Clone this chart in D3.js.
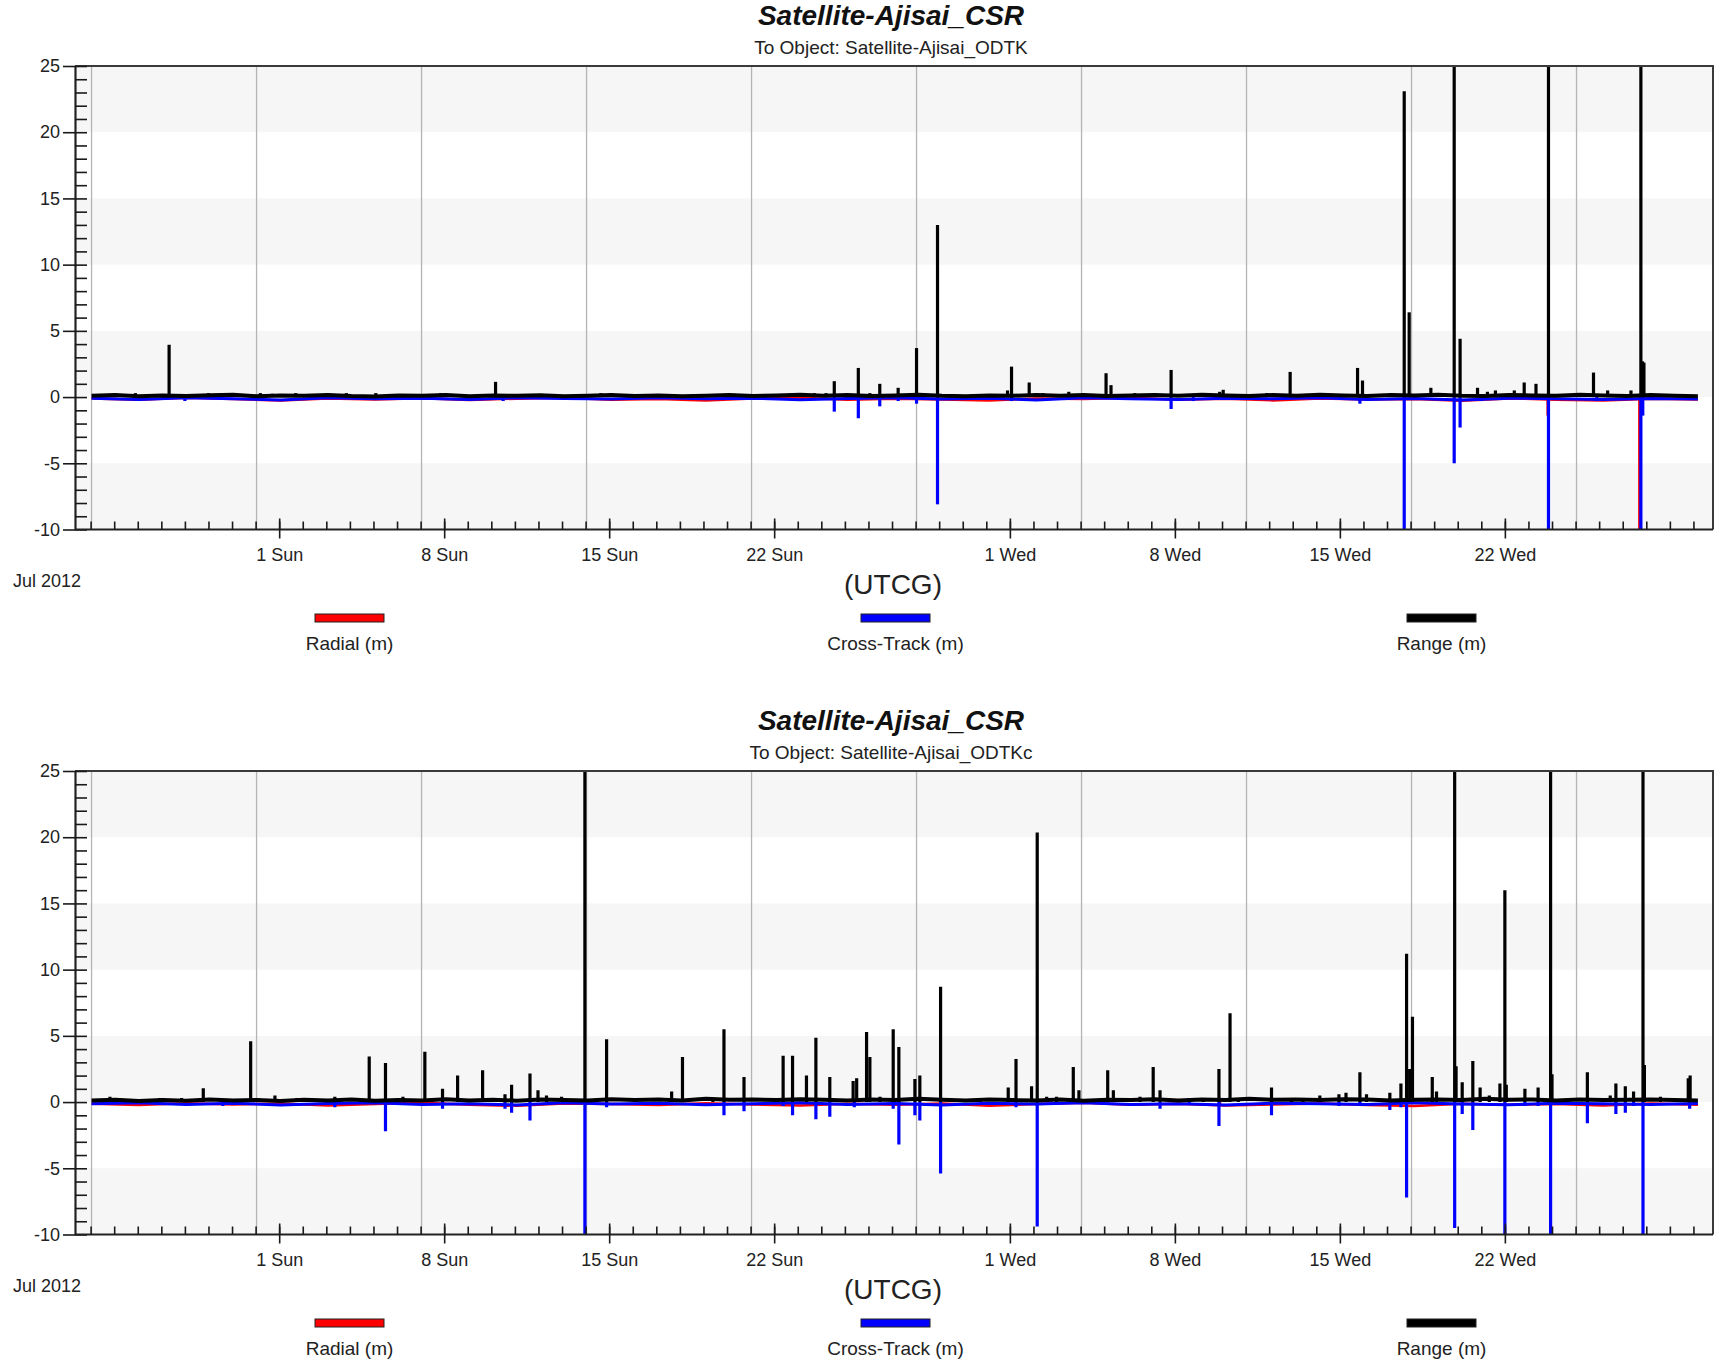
<!DOCTYPE html>
<html>
<head>
<meta charset="utf-8">
<script src="https://cdn.jsdelivr.net/npm/d3@7"></script>
<style>
  body { margin: 0; background: #fff; }
  svg { display: block; font-family: "Liberation Sans", Arial, sans-serif; }
</style>
</head>
<body>
<svg id="chart" width="1719" height="1369"></svg>
<script>
// time in days from 1 Jul 2012 00:00 UTCG
const dataStart = -7.96, dataEnd = 60.19;
const tickDays = [0, 7, 14, 21, 31, 38, 45, 52];
const tickLabels = ["1 Sun", "8 Sun", "15 Sun", "22 Sun", "1 Wed", "8 Wed", "15 Wed", "22 Wed"];
const gridDays = [-7.96, -0.96, 6.04, 13.04, 20.04, 27.04, 34.04, 41.04, 48.04, 55.04];
const yTicks = [-10, -5, 0, 5, 10, 15, 20, 25];
const seriesNames = ["Radial (m)", "Cross-Track (m)", "Range (m)"];
const seriesColors = ["#ff0000", "#0000ff", "#000000"];
const titles = ["Satellite-Ajisai_CSR", "Satellite-Ajisai_CSR"];
const subtitles = ["To Object: Satellite-Ajisai_ODTK", "To Object: Satellite-Ajisai_ODTKc"];

// ---- panel 1 (ODTK) ----
const rangeBase1 = [0.1,0.15,0.06,0.12,0.08,0.14,0.18,0.06,0.12,0.1,0.15,0.08,0.05,0.12,0.1,0.16,0.06,0.12,0.1,0.14,0.06,0.1,0.15,0.08,0.12,0.06,0.1,0.15,0.08,0.12,0.18,0.1,0.15,0.08,0.12,0.18,0.1,0.06,0.12,0.1,0.15,0.1,0.16,0.08,0.12,0.15,0.1,0.18,0.12,0.08,0.15,0.1,0.18,0.12,0.08,0.15,0.12,0.18,0.1,0.08,0.15,0.12,0.1,0.18,0.12,0.08,0.15,0.1,0.06];
const crossBase1 = [-0.08,-0.18,-0.05,-0.12,-0.22,-0.06,-0.12,-0.08,-0.18,-0.05,-0.1,-0.15,-0.06,-0.12,-0.08,-0.2,-0.1,-0.05,-0.15,-0.08,-0.22,-0.06,-0.12,-0.18,-0.08,-0.12,-0.05,-0.18,-0.1,-0.22,-0.08,-0.12,-0.18,-0.1,-0.15];
const radialBase1 = [-0.1,-0.2,-0.05,-0.15,-0.25,-0.1,-0.18,-0.08,-0.22,-0.12,-0.05,-0.2,-0.15,-0.25,-0.1,-0.05,-0.2,-0.12,-0.18,-0.25,-0.1,-0.15,-0.05,-0.2,-0.12,-0.25,-0.1,-0.18,-0.15,-0.28,-0.1,-0.2,-0.25,-0.12,-0.18];
const rangeSpikes1 = [[-6.1,0.3],[-4.67,3.95],[-3.0,0.3],[-0.8,0.3],[-0.3,0.25],[0.7,0.3],[2.85,0.3],[4.1,0.3],[6.85,0.3],[9.18,1.15],[13.65,0.3],
  [22.7,0.3],[23.2,0.3],[23.55,1.2],[24.57,2.2],[25.06,0.3],[25.48,1.0],[26.26,0.7],[27.04,3.7],[27.93,13.0],[28.5,0.2],[29.4,0.2],[30.9,0.5],[31.07,2.3],[31.82,1.1],[32.4,0.3],[33.5,0.4],[35.08,1.8],[35.29,0.9],[36.3,0.3],[37.84,2.05],[39.9,0.4],[40.05,0.55],[41.9,0.3],[42.89,1.9],
  [45.75,2.2],[45.96,1.25],[47.73,23.1],[47.94,6.4],[48.86,0.7],[49.85,30],[50.1,4.4],[50.84,0.7],[51.26,0.4],[51.6,0.5],[52.4,0.5],[52.82,1.1],[53.32,1.0],[53.85,30],[55.76,1.85],[56.36,0.5],[57.35,0.5],[57.77,30],[57.84,2.7],[57.9,2.6]];
const crossSpikes1 = [[-4.0,-0.3],[9.5,-0.3],[23.55,-1.1],[24.57,-1.6],[25.48,-0.7],[26.26,-0.3],[27.04,-0.5],[27.93,-8.1],[31.07,-0.3],[37.84,-0.9],[38.78,-0.3],[45.85,-0.5],[47.73,-12],[49.85,-5.0],[50.1,-2.3],[51.0,-0.3],[53.85,-12],[55.9,-0.3],[57.77,-12],[57.85,-1.4]];
const radialSpikes1 = [[53.83,-1.4],[57.72,-12]];

// ---- panel 2 (ODTKc) ----
const rangeBase2 = [0.12,0.18,0.08,0.15,0.1,0.2,0.12,0.16,0.08,0.18,0.12,0.2,0.1,0.15,0.12,0.22,0.12,0.18,0.1,0.2,0.15,0.12,0.22,0.15,0.2,0.12,0.25,0.18,0.2,0.15,0.22,0.18,0.12,0.2,0.15,0.25,0.18,0.12,0.2,0.15,0.12,0.2,0.1,0.18,0.15,0.22,0.12,0.2,0.15,0.25,0.18,0.2,0.15,0.22,0.2,0.12,0.18,0.2,0.15,0.25,0.18,0.2,0.12,0.2,0.15,0.18,0.2,0.15,0.12];
const crossBase2 = [-0.12,-0.05,-0.18,-0.08,-0.22,-0.1,-0.05,-0.18,-0.12,-0.22,-0.06,-0.15,-0.08,-0.2,-0.12,-0.05,-0.18,-0.1,-0.22,-0.08,-0.15,-0.06,-0.18,-0.12,-0.22,-0.08,-0.12,-0.18,-0.05,-0.15,-0.2,-0.08,-0.12,-0.18,-0.1];
const radialBase2 = [-0.12,-0.22,-0.08,-0.18,-0.1,-0.25,-0.15,-0.05,-0.2,-0.28,-0.1,-0.15,-0.22,-0.08,-0.18,-0.25,-0.12,-0.2,-0.1,-0.28,-0.15,-0.05,-0.2,-0.12,-0.25,-0.18,-0.1,-0.22,-0.3,-0.12,-0.2,-0.15,-0.25,-0.1,-0.2];
const rangeSpikes2 = [[-7.18,0.4],[-6.12,0.2],[-5.06,0.3],[-4.14,0.3],[-3.22,1.05],[-2.39,0.2],[-1.21,4.6],[-0.18,0.5],[0.74,0.3],[2.36,0.4],[3.82,3.45],[4.51,2.95],[5.25,0.4],[6.18,3.8],[6.93,1.0],[7.57,2.0],[8.63,2.4],[9.58,0.6],[9.86,1.3],[10.64,2.15],[10.98,0.9],[11.34,0.5],[11.98,0.4],[12.97,30],[13.89,4.75],[16.65,0.8],[17.11,3.4],[18.4,0.3],[18.87,5.5],[19.72,1.9],
  [21.38,3.5],[21.78,3.5],[22.37,2.0],[22.77,4.85],[23.36,1.9],[24.35,1.6],[24.5,1.8],[24.92,5.3],[25.06,3.4],[25.49,0.4],[26.05,5.5],[26.29,4.15],[26.97,1.75],[27.18,2.0],[28.06,8.7],[29.73,0.3],[30.93,1.1],[31.26,3.25],[31.92,1.2],[32.16,20.35],[32.56,0.4],[32.98,0.4],[33.69,2.65],[33.93,0.9],[35.15,2.4],[35.39,0.9],[36.52,0.4],
  [37.08,2.65],[37.37,0.9],[38.61,0.3],[39.2,0.3],[39.87,2.5],[40.34,6.7],[40.69,0.3],[42.1,1.1],[42.95,0.3],[43.44,0.3],[44.15,0.5],[44.96,0.6],[45.26,0.7],[45.85,2.25],[46.13,0.6],[47.12,0.7],[47.59,1.4],[47.83,11.2],[47.96,2.5],[48.08,6.45],[48.92,1.9],[49.1,0.8],[49.87,30],[49.93,2.7],[50.19,1.5],[50.64,3.1],[50.95,1.1],[51.34,0.5],[51.79,1.4],[52.0,16.0],[52.06,1.3],
  [52.85,1.0],[53.41,1.1],[53.94,30],[54.0,2.1],[55.5,2.25],[56.47,0.5],[56.71,1.4],[57.11,1.2],[57.46,0.8],[57.86,30],[57.92,2.8],[58.6,0.4],[59.78,1.8],[59.86,2.0]];
const crossSpikes2 = [[-2.39,-0.3],[2.36,-0.4],[4.51,-2.2],[6.93,-0.5],[9.58,-0.5],[9.86,-0.8],[10.64,-1.4],[12.97,-12],[13.89,-0.4],[18.87,-1.0],[19.72,-0.7],[21.38,-0.3],[21.78,-1.0],[22.77,-1.3],[23.36,-1.1],[24.4,-0.4],[26.05,-0.5],[26.29,-3.2],[26.97,-1.0],[27.18,-1.4],[28.06,-5.4],[31.26,-0.4],[32.16,-9.4],[37.37,-0.5],[38.61,-0.2],[39.87,-1.8],[42.1,-1.0],[44.96,-0.3],[45.85,-0.3],[47.12,-0.6],[47.59,-0.4],[47.83,-7.2],[49.87,-9.5],[50.19,-0.9],[50.64,-2.1],[52.0,-12],[52.85,-0.3],[53.41,-0.3],[53.94,-12],[55.5,-1.6],[56.71,-0.9],[57.11,-0.8],[57.46,-0.3],[57.86,-12],[59.84,-0.5]];
const radialSpikes2 = [[26.3,-0.3],[39.9,-0.3],[56.7,-0.3]];

const panels = [
  { base: [radialBase1, crossBase1, rangeBase1], spikes: [radialSpikes1, crossSpikes1, rangeSpikes1] },
  { base: [radialBase2, crossBase2, rangeBase2], spikes: [radialSpikes2, crossSpikes2, rangeSpikes2] }
];

const svg = d3.select("#chart");
const minorDays = d3.range(-8, 61);
const minorY = d3.range(-10, 26);

function drawPanel(p, i) {
  const g = svg.append("g").attr("transform", "translate(0," + (i * 705) + ")");
  const x = d3.scaleLinear().domain([-8.62, 60.83]).range([76, 1713]);
  const y = d3.scaleLinear().domain([-10, 25]).range([529.5, 66]);

  // title
  g.append("text").attr("x", 891).attr("y", 25).attr("text-anchor", "middle")
    .style("font-size", "28px").style("font-weight", "bold").style("font-style", "italic")
    .attr("fill", "#111").text(titles[i]);
  g.append("text").attr("x", 891).attr("y", 53.5).attr("text-anchor", "middle")
    .style("font-size", "19px").attr("fill", "#222").text(subtitles[i]);

  // alternating bands
  g.selectAll("rect.band").data([20, 10, 0, -10]).enter().append("rect")
    .attr("class", "band")
    .attr("x", 77).attr("width", 1713 - 77)
    .attr("y", d => y(d + 5)).attr("height", d => y(d) - y(d + 5))
    .attr("fill", "#f6f6f6");

  // vertical grid
  g.selectAll("line.grid").data(gridDays).enter().append("line")
    .attr("class", "grid")
    .attr("x1", d => x(d)).attr("x2", d => x(d))
    .attr("y1", y(25)).attr("y2", y(-10))
    .attr("stroke", "#b4b4b4").attr("stroke-width", 1.3);

  // data
  const clipId = "clip" + i;
  g.append("clipPath").attr("id", clipId).append("rect")
    .attr("x", 76).attr("y", y(25)).attr("width", 1713 - 76).attr("height", y(-10) - y(25));
  const plot = g.append("g").attr("clip-path", "url(#" + clipId + ")");
  const line = d3.line().x(d => x(d[0])).y(d => y(d[1]));
  const baseW = [2.5, 3, 4];
  [0, 1, 2].forEach(s => {
    const vals = p.base[s];
    const step = (dataEnd - dataStart) / (vals.length - 1);
    const pts = vals.map((v, k) => [dataStart + k * step, v]);
    plot.append("path").datum(pts).attr("d", line)
      .attr("fill", "none").attr("stroke", seriesColors[s]).attr("stroke-width", baseW[s])
      .attr("stroke-linejoin", "round");
    plot.selectAll("line.s" + s).data(p.spikes[s]).enter().append("line")
      .attr("class", "s" + s)
      .attr("x1", d => x(d[0])).attr("x2", d => x(d[0]))
      .attr("y1", y(0)).attr("y2", d => y(d[1]))
      .attr("stroke", seriesColors[s]).attr("stroke-width", 3.2);
  });

  // frame top/right
  g.append("path")
    .attr("d", "M75," + y(25) + "H1713V" + y(-10))
    .attr("fill", "none").attr("stroke", "#3a3a3a").attr("stroke-width", 2);

  // y axis
  const yAxis = g.append("g").attr("transform", "translate(75,0)")
    .call(d3.axisLeft(y).tickValues(yTicks).tickFormat(d => String(d))
      .tickSize(12).tickPadding(3).tickSizeOuter(0));
  g.append("g").attr("transform", "translate(75,0)")
    .call(d3.axisRight(y).tickValues(minorY).tickSize(12).tickFormat("").tickSizeOuter(0))
    .select(".domain").remove();

  // x axis
  const xAxis = g.append("g").attr("transform", "translate(0," + y(-10) + ")")
    .call(d3.axisBottom(x).tickValues(tickDays).tickFormat((d, k) => tickLabels[k])
      .tickSize(9).tickPadding(10).tickSizeOuter(0));
  g.append("g").attr("transform", "translate(0," + y(-10) + ")")
    .call(d3.axisTop(x).tickValues(minorDays).tickSize(8).tickFormat("").tickSizeOuter(0))
    .select(".domain").remove();
  g.append("g").attr("transform", "translate(0," + y(-10) + ")")
    .call(d3.axisTop(x).tickValues(tickDays).tickSize(11).tickFormat("").tickSizeOuter(0))
    .select(".domain").remove();
  xAxis.select(".domain").attr("d", "M75,0H1713");

  g.selectAll(".tick line").attr("stroke", "#1a1a1a").attr("stroke-width", 1.6);
  g.selectAll(".domain").attr("stroke", "#222").attr("stroke-width", 2.2);
  yAxis.selectAll("text").style("font-size", "18px").attr("fill", "#222");
  xAxis.selectAll("text").style("font-size", "18px").attr("fill", "#222");
  g.selectAll(".tick text").style("font-family", "'Liberation Sans', Arial, sans-serif");

  g.append("text").attr("x", 13).attr("y", 587).style("font-size", "18px")
    .attr("fill", "#222").text("Jul 2012");
  g.append("text").attr("x", 893).attr("y", 594).attr("text-anchor", "middle")
    .style("font-size", "28px").attr("fill", "#222").text("(UTCG)");

  // legend
  const legX = [315, 861, 1407];
  const leg = g.selectAll("g.leg").data(seriesNames).enter().append("g").attr("class", "leg");
  leg.append("rect")
    .attr("x", (d, k) => legX[k]).attr("y", 614).attr("width", 69).attr("height", 8)
    .attr("fill", (d, k) => seriesColors[k]).attr("stroke", "#222").attr("stroke-width", 1);
  leg.append("text")
    .attr("x", (d, k) => legX[k] + 34.5).attr("y", 650).attr("text-anchor", "middle")
    .style("font-size", "19px").attr("fill", "#222").text(d => d);
}

panels.forEach(drawPanel);
</script>
</body>
</html>
